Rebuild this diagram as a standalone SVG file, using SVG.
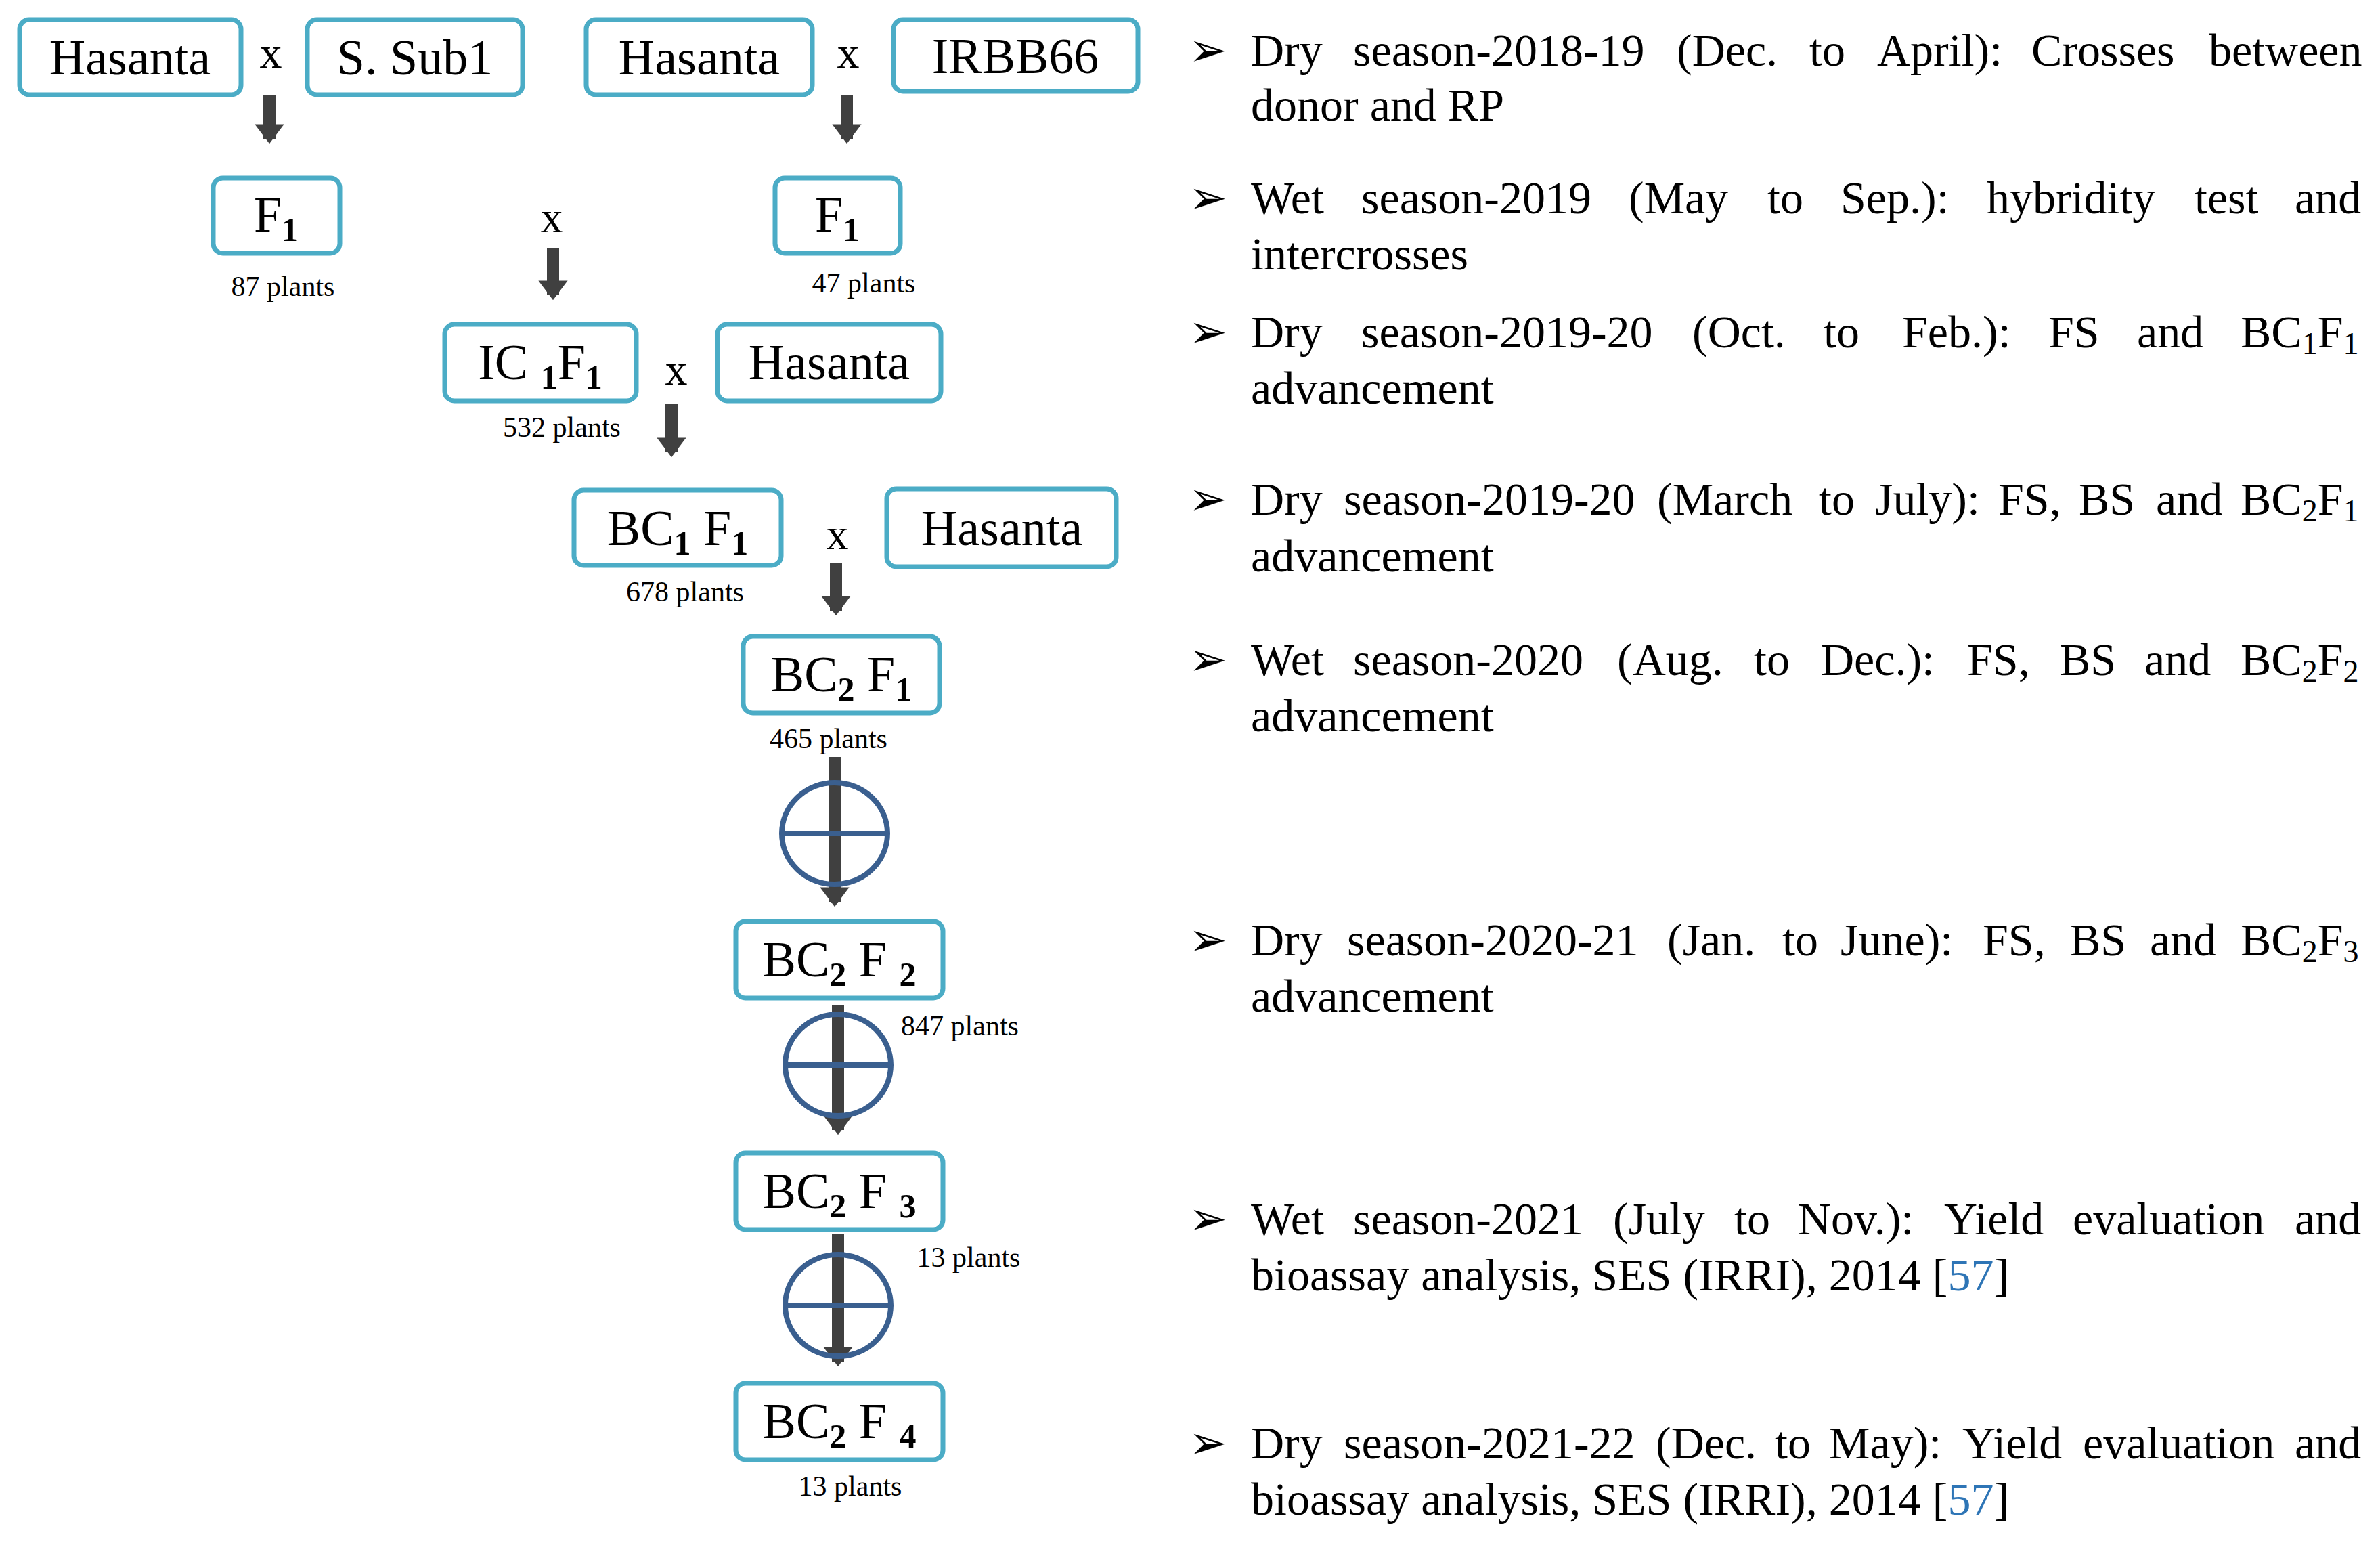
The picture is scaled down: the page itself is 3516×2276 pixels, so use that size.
<svg xmlns="http://www.w3.org/2000/svg" width="3516" height="2276" viewBox="0 0 3516 2276">
<style>
.b{fill:#fff;stroke:#4bacc6;stroke-width:7}
.n{font-family:"Liberation Serif",serif;font-size:74px;fill:#000;text-anchor:middle}
.s{font-size:50px;font-weight:bold}
.p{font-family:"Liberation Serif",serif;font-size:42px;fill:#000;text-anchor:middle}
.x{font-family:"Liberation Serif",serif;font-size:66px;fill:#000;text-anchor:middle}
.t{font-family:"Liberation Serif",serif;font-size:68px;fill:#000}
.u{font-size:46px}
.r{fill:#2e75b6}
.c{fill:none;stroke:#3a5f8f;stroke-width:8}
.a{stroke:#404040;stroke-width:18}
</style>
<defs>
<marker id="ah" markerWidth="3" markerHeight="2.4" refX="1.2" refY="1.2" orient="auto" markerUnits="strokeWidth"><path d="M0,0L1.6,1.2L0,2.4z" fill="#404040"/></marker>
</defs>
<g id="nodes">
<g id="h1"><rect class="b" x="29" y="29" width="327" height="111" rx="14"/><text class="n" x="192" y="110">Hasanta</text></g>
<g id="ss"><rect class="b" x="454" y="29" width="318" height="111" rx="14"/><text class="n" x="613" y="110">S. Sub1</text></g>
<g id="h2"><rect class="b" x="866" y="29" width="334" height="111" rx="14"/><text class="n" x="1033" y="110">Hasanta</text></g>
<g id="ir"><rect class="b" x="1320" y="29" width="361" height="106" rx="14"/><text class="n" x="1500" y="108">IRBB66</text></g>
<g id="f1a"><rect class="b" x="315" y="263" width="187" height="111" rx="14"/><text class="n" x="408" y="342">F<tspan class="s" dy="14">1</tspan></text><text class="p" x="418" y="437">87 plants</text></g>
<g id="f1b"><rect class="b" x="1145" y="263" width="185" height="111" rx="14"/><text class="n" x="1237" y="342">F<tspan class="s" dy="14">1</tspan></text><text class="p" x="1276" y="432">47 plants</text></g>
<g id="ic"><rect class="b" x="657" y="479" width="283" height="113" rx="14"/><text class="n" x="798" y="560">IC <tspan class="s" dy="14">1</tspan><tspan dy="-14">F</tspan><tspan class="s" dy="14">1</tspan></text><text class="p" x="830" y="645">532 plants</text></g>
<g id="h3"><rect class="b" x="1060" y="479" width="330" height="113" rx="14"/><text class="n" x="1225" y="560">Hasanta</text></g>
<g id="bc11"><rect class="b" x="848" y="724" width="306" height="111" rx="14"/><text class="n" x="1001" y="805">BC<tspan class="s" dy="14">1</tspan><tspan dy="-14"> F</tspan><tspan class="s" dy="14">1</tspan></text><text class="p" x="1012" y="888">678 plants</text></g>
<g id="h4"><rect class="b" x="1310" y="722" width="339" height="115" rx="14"/><text class="n" x="1480" y="805">Hasanta</text></g>
<g id="bc21"><rect class="b" x="1098" y="940" width="290" height="113" rx="14"/><text class="n" x="1243" y="1021">BC<tspan class="s" dy="14">2</tspan><tspan dy="-14"> F</tspan><tspan class="s" dy="14">1</tspan></text><text class="p" x="1224" y="1105">465 plants</text></g>
<g id="bc22"><rect class="b" x="1087" y="1361" width="306" height="113" rx="14"/><text class="n" x="1240" y="1442">BC<tspan class="s" dy="14">2</tspan><tspan dy="-14"> F </tspan><tspan class="s" dy="14">2</tspan></text><text class="p" x="1418" y="1529">847 plants</text></g>
<g id="bc23"><rect class="b" x="1087" y="1703" width="306" height="113" rx="14"/><text class="n" x="1240" y="1784">BC<tspan class="s" dy="14">2</tspan><tspan dy="-14"> F </tspan><tspan class="s" dy="14">3</tspan></text><text class="p" x="1431" y="1871">13 plants</text></g>
<g id="bc24"><rect class="b" x="1087" y="2043" width="306" height="113" rx="14"/><text class="n" x="1240" y="2124">BC<tspan class="s" dy="14">2</tspan><tspan dy="-14"> F </tspan><tspan class="s" dy="14">4</tspan></text><text class="p" x="1256" y="2209">13 plants</text></g>
<text class="x" x="400" y="100">x</text>
<text class="x" x="1253" y="100">x</text>
<text class="x" x="815" y="343">x</text>
<text class="x" x="999" y="568">x</text>
<text class="x" x="1237" y="811">x</text>
</g>
<g id="connectors">
<line class="a" x1="398" y1="140" x2="398" y2="205" marker-end="url(#ah)"/>
<line class="a" x1="1251" y1="140" x2="1251" y2="205" marker-end="url(#ah)"/>
<line class="a" x1="817" y1="367" x2="817" y2="436" marker-end="url(#ah)"/>
<line class="a" x1="992" y1="596" x2="992" y2="668" marker-end="url(#ah)"/>
<line class="a" x1="1235" y1="832" x2="1235" y2="902" marker-end="url(#ah)"/>
<line class="a" x1="1233" y1="1118" x2="1233" y2="1332" marker-end="url(#ah)"/>
<line class="a" x1="1238" y1="1485" x2="1238" y2="1669" marker-end="url(#ah)"/>
<line class="a" x1="1238" y1="1822" x2="1238" y2="2011" marker-end="url(#ah)"/>
<ellipse class="c" cx="1233" cy="1231" rx="78" ry="75"/><line class="c" x1="1155" y1="1231" x2="1311" y2="1231"/>
<ellipse class="c" cx="1238" cy="1573" rx="78" ry="75"/><line class="c" x1="1160" y1="1573" x2="1316" y2="1573"/>
<ellipse class="c" cx="1238" cy="1928" rx="78" ry="75"/><line class="c" x1="1160" y1="1928" x2="1316" y2="1928"/>
</g>
<g id="notes">
<text class="t" x="1756" y="97">➢</text>
<text class="t" y="97"><tspan x="1848">Dry</tspan><tspan x="1999">season-2018-19</tspan><tspan x="2477">(Dec.</tspan><tspan x="2673">to</tspan><tspan x="2773">April):</tspan><tspan x="3001">Crosses</tspan><tspan x="3263">between</tspan></text>
<text class="t" x="1848" y="178">donor and RP</text>
<text class="t" x="1756" y="315">➢</text>
<text class="t" y="315"><tspan x="1848">Wet</tspan><tspan x="2011">season-2019</tspan><tspan x="2406">(May</tspan><tspan x="2611">to</tspan><tspan x="2719">Sep.):</tspan><tspan x="2935">hybridity</tspan><tspan x="3242">test</tspan><tspan x="3390">and</tspan></text>
<text class="t" x="1848" y="398">intercrosses</text>
<text class="t" x="1756" y="513">➢</text>
<text class="t" y="513"><tspan x="1848">Dry</tspan><tspan x="2011">season-2019-20</tspan><tspan x="2500">(Oct.</tspan><tspan x="2694">to</tspan><tspan x="2810">Feb.):</tspan><tspan x="3026">FS</tspan><tspan x="3157">and</tspan><tspan x="3310">BC</tspan><tspan class="u" dy="10">1</tspan><tspan dy="-10">F</tspan><tspan class="u" dy="10">1</tspan></text>
<text class="t" x="1848" y="596">advancement</text>
<text class="t" x="1756" y="760">➢</text>
<text class="t" y="760"><tspan x="1848">Dry</tspan><tspan x="1985">season-2019-20</tspan><tspan x="2448">(March</tspan><tspan x="2687">to</tspan><tspan x="2770">July):</tspan><tspan x="2952">FS,</tspan><tspan x="3071">BS</tspan><tspan x="3185">and</tspan><tspan x="3310">BC</tspan><tspan class="u" dy="10">2</tspan><tspan dy="-10">F</tspan><tspan class="u" dy="10">1</tspan></text>
<text class="t" x="1848" y="844">advancement</text>
<text class="t" x="1756" y="997">➢</text>
<text class="t" y="997"><tspan x="1848">Wet</tspan><tspan x="1999">season-2020</tspan><tspan x="2389">(Aug.</tspan><tspan x="2591">to</tspan><tspan x="2690">Dec.):</tspan><tspan x="2906">FS,</tspan><tspan x="3043">BS</tspan><tspan x="3168">and</tspan><tspan x="3310">BC</tspan><tspan class="u" dy="10">2</tspan><tspan dy="-10">F</tspan><tspan class="u" dy="10">2</tspan></text>
<text class="t" x="1848" y="1080">advancement</text>
<text class="t" x="1756" y="1411">➢</text>
<text class="t" y="1411"><tspan x="1848">Dry</tspan><tspan x="1990">season-2020-21</tspan><tspan x="2463">(Jan.</tspan><tspan x="2633">to</tspan><tspan x="2719">June):</tspan><tspan x="2929">FS,</tspan><tspan x="3058">BS</tspan><tspan x="3176">and</tspan><tspan x="3310">BC</tspan><tspan class="u" dy="10">2</tspan><tspan dy="-10">F</tspan><tspan class="u" dy="10">3</tspan></text>
<text class="t" x="1848" y="1494">advancement</text>
<text class="t" x="1756" y="1823">➢</text>
<text class="t" y="1823"><tspan x="1848">Wet</tspan><tspan x="1999">season-2021</tspan><tspan x="2383">(July</tspan><tspan x="2562">to</tspan><tspan x="2656">Nov.):</tspan><tspan x="2872">Yield</tspan><tspan x="3062">evaluation</tspan><tspan x="3390">and</tspan></text>
<text class="t" x="1848" y="1906">bioassay analysis, SES (IRRI), 2014 [<tspan class="r">57</tspan>]</text>
<text class="t" x="1756" y="2154">➢</text>
<text class="t" y="2154"><tspan x="1848">Dry</tspan><tspan x="1985">season-2021-22</tspan><tspan x="2446">(Dec.</tspan><tspan x="2622">to</tspan><tspan x="2702">May):</tspan><tspan x="2899">Yield</tspan><tspan x="3077">evaluation</tspan><tspan x="3390">and</tspan></text>
<text class="t" x="1848" y="2237">bioassay analysis, SES (IRRI), 2014 [<tspan class="r">57</tspan>]</text>
</g>
</svg>
